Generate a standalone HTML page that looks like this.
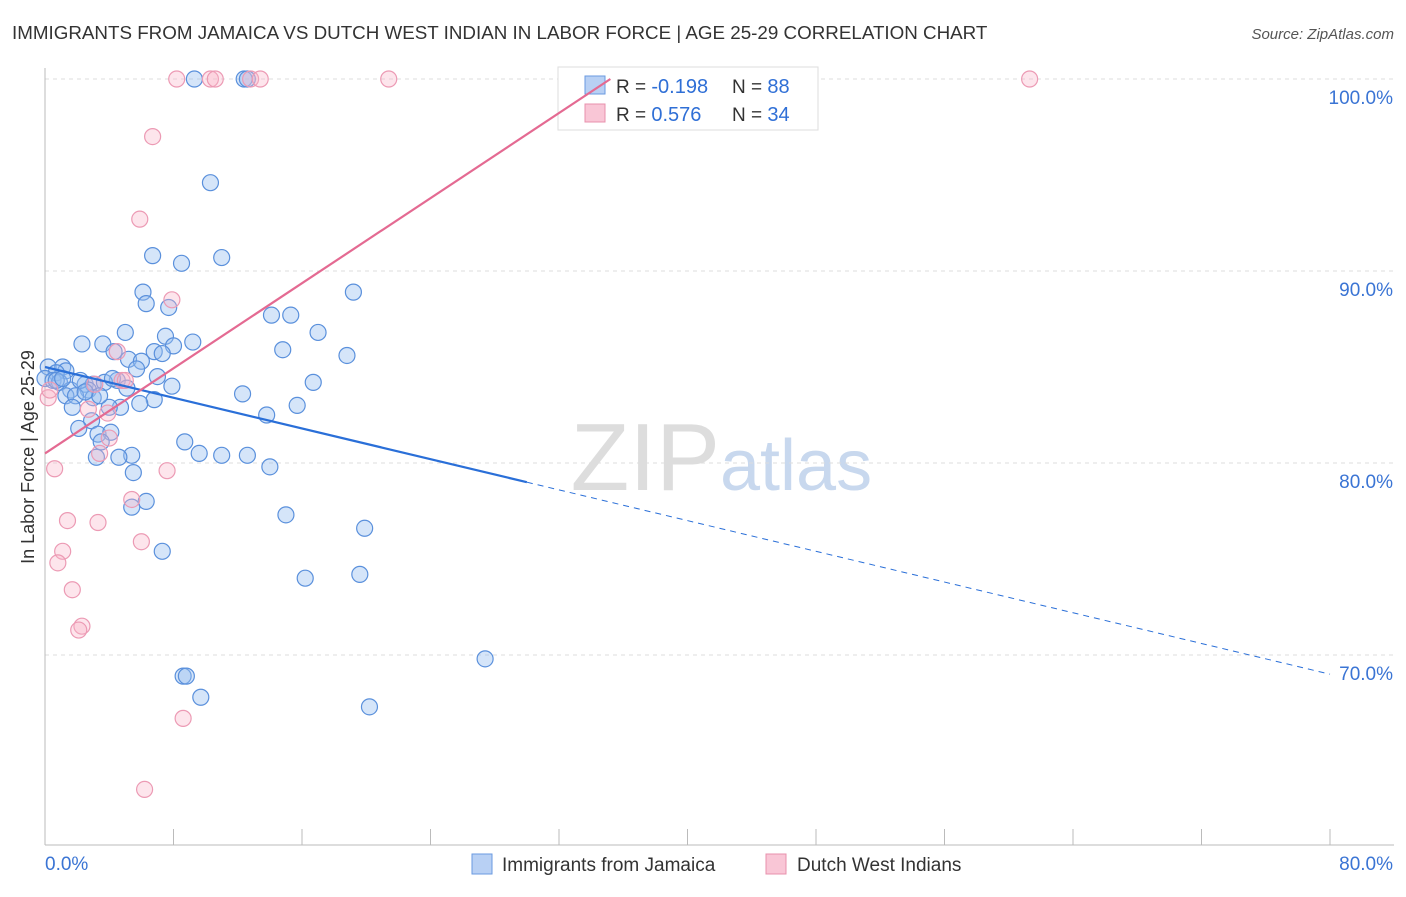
<!DOCTYPE html>
<html><head><meta charset="utf-8"><style>
body{margin:0;background:#fff;font-family:"Liberation Sans",sans-serif;}
svg text{font-family:"Liberation Sans",sans-serif;}
</style></head><body>
<svg id="c" width="1406" height="892">
<text x="12" y="39" font-size="18.8" fill="#333">IMMIGRANTS FROM JAMAICA VS DUTCH WEST INDIAN IN LABOR FORCE | AGE 25-29 CORRELATION CHART</text>
<text x="1394" y="39" font-size="15" fill="#555" font-style="italic" text-anchor="end">Source: ZipAtlas.com</text>
<text x="720" y="490" font-size="96" fill="#ddd" text-anchor="end" font-family="Liberation Serif">ZIP</text>
<text x="720" y="490" font-size="72" fill="#c8d8ee">atlas</text>
<g id="grid"></g><g id="pts"></g>
<g>
<rect x="558" y="67" width="260" height="63" fill="#fff" stroke="#ddd"/>
<rect x="585" y="76" width="20" height="18" fill="#b8d0f4" stroke="#6a9ae0"/>
<rect x="585" y="104" width="20" height="18" fill="#f9c6d6" stroke="#e890ac"/>
<text x="616" y="93" font-size="19" fill="#333">R = <tspan fill="#2f6fd6" font-size="20">-0.198</tspan></text>
<text x="732" y="93" font-size="19" fill="#333">N = <tspan fill="#2f6fd6" font-size="20">88</tspan></text>
<text x="616" y="121" font-size="19" fill="#333">R = <tspan fill="#2f6fd6" font-size="20"> 0.576</tspan></text>
<text x="732" y="121" font-size="19" fill="#333">N = <tspan fill="#2f6fd6" font-size="20">34</tspan></text>
</g>
<g id="lines"></g>
<text transform="translate(34,457) rotate(-90)" font-size="18" fill="#333" text-anchor="middle">In Labor Force | Age 25-29</text>
<g>
<rect x="472" y="854" width="20" height="20" fill="#b8d0f4" stroke="#6a9ae0"/>
<text x="502" y="871" font-size="19" fill="#333">Immigrants from Jamaica</text>
<rect x="766" y="854" width="20" height="20" fill="#f9c6d6" stroke="#e890ac"/>
<text x="797" y="871" font-size="19" fill="#333">Dutch West Indians</text>
</g>
</svg>
<script>
const blueX=[9.3,12.4,12.6,10.3,6.7,11.0,8.5,6.1,19.2,6.3,7.7,14.1,15.3,5.0,17.0,7.5,2.3,3.6,9.2,8.0,4.3,6.8,14.8,7.3,18.8,5.2,6.0,5.7,0.2,1.1,1.3,0.7,0.0,0.5,0.9,7.0,16.7,2.5,3.0,4.5,3.7,2.7,1.6,1.3,7.9,1.9,12.3,3.0,6.8,5.9,1.7,4.7,4.0,15.7,13.8,2.9,2.1,3.3,4.1,8.7,3.5,3.2,5.4,4.6,9.6,11.0,12.6,14.0,5.5,6.3,5.4,15.0,19.9,7.3,16.2,19.6,27.4,8.6,8.8,9.7,20.2,0.7,1.1,2.2,4.2,5.1,3.4,2.5];
const blueY=[100,100,100,94.6,90.8,90.7,90.4,88.9,88.9,88.3,88.1,87.7,87.7,86.8,86.8,86.6,86.2,86.2,86.3,86.1,85.8,85.8,85.9,85.7,85.6,85.4,85.3,84.9,85.0,85.0,84.8,84.7,84.4,84.3,84.2,84.5,84.2,84.1,84.1,84.3,84.2,83.8,83.8,83.5,84.0,83.5,83.6,83.4,83.3,83.1,82.9,82.9,82.9,83.0,82.5,82.2,81.8,81.5,81.6,81.1,81.1,80.3,80.4,80.3,80.5,80.4,80.4,79.8,79.5,78.0,77.7,77.3,76.6,75.4,74.0,74.2,69.8,68.9,68.9,67.8,67.3,84.3,84.4,84.3,84.4,83.9,83.5,83.7];
const pinkX=[8.2,10.3,10.6,12.8,13.4,21.4,61.3,6.7,5.9,7.9,4.5,4.8,3.1,2.7,3.9,0.2,4.0,3.4,0.6,7.6,5.4,6.0,1.4,3.3,1.1,0.8,1.7,2.3,2.1,8.6,6.2,5.0,0.3];
const pinkY=[100,100,100,100,100,100,100,97.0,92.7,88.5,85.8,84.3,84.1,82.8,82.6,83.4,81.3,80.5,79.7,79.6,78.1,75.9,77.0,76.9,75.4,74.8,73.4,71.5,71.3,66.7,63.0,84.3,83.8];
const yTicks=[100,90,80,70];
const yTickLabels=["100.0%","90.0%","80.0%","70.0%"];
const xTickVals=[0,8,16,24,32,40,48,56,64,72,80];
const blueTrend=[85.0,-0.2]; const pinkTrend=[80.5,0.554];
const NS="http://www.w3.org/2000/svg";
const X=v=>45+v*(1330-45)/80, Y=v=>79+(100-v)*19.2;
function mk(t,a,p){const e=document.createElementNS(NS,t);for(const k in a)e.setAttribute(k,a[k]);p.appendChild(e);return e;}
const g=document.getElementById('grid');
yTicks.forEach((t,i)=>{
 const l=mk('line',{x1:45,x2:1394,y1:Y(t),y2:Y(t),stroke:'#ddd','stroke-dasharray':'4,4'},g);
 
 
 const tx=mk('text',{x:1393,y:Y(t)+25,'font-size':19,fill:'#3a74d4','text-anchor':'end'},g);tx.textContent=yTickLabels[i];
 
 
});
const ax=mk('line',{x1:45,x2:45,y1:68,y2:845,stroke:'#bbb'},g);


const bx=mk('line',{x1:45,x2:1394,y1:845,y2:845,stroke:'#bbb'},g);


xTickVals.forEach(v=>{const t=mk('line',{x1:X(v),x2:X(v),y1:829,y2:845,stroke:'#bbb'},g);
 
 });
const x0=mk('text',{x:45,y:870,'font-size':19,fill:'#3a74d4'},g);x0.textContent='0.0%';


const x1=mk('text',{x:1393,y:870,'font-size':19,fill:'#3a74d4','text-anchor':'end'},g);x1.textContent='80.0%';


const p=document.getElementById('pts');
blueX.forEach((v,i)=>{const c=mk('circle',{cx:X(v),cy:Y(blueY[i]),r:8,fill:'rgba(150,190,240,0.4)',stroke:'#5a90dc','stroke-width':1.2},p);
 
 });
pinkX.forEach((v,i)=>{const c=mk('circle',{cx:X(v),cy:Y(pinkY[i]),r:8,fill:'rgba(248,180,200,0.35)',stroke:'#ec9ab4','stroke-width':1.2},p);
 
 });
const L=document.getElementById('lines');
const bf=x=>blueTrend[0]+blueTrend[1]*x, pf=x=>pinkTrend[0]+pinkTrend[1]*x;
let a=mk('line',{x1:X(0),y1:Y(bf(0)),x2:X(30),y2:Y(bf(30)),stroke:'#2a6fd8','stroke-width':2.2},L);


a=mk('line',{x1:X(30),y1:Y(bf(30)),x2:X(80),y2:Y(bf(80)),stroke:'#2a6fd8','stroke-width':1,'stroke-dasharray':'6,5'},L);


const pe=(100-pinkTrend[0])/pinkTrend[1];
a=mk('line',{x1:X(0),y1:Y(pf(0)),x2:X(pe),y2:Y(100),stroke:'#e46a92','stroke-width':2.2},L);


</script>
</body></html>
